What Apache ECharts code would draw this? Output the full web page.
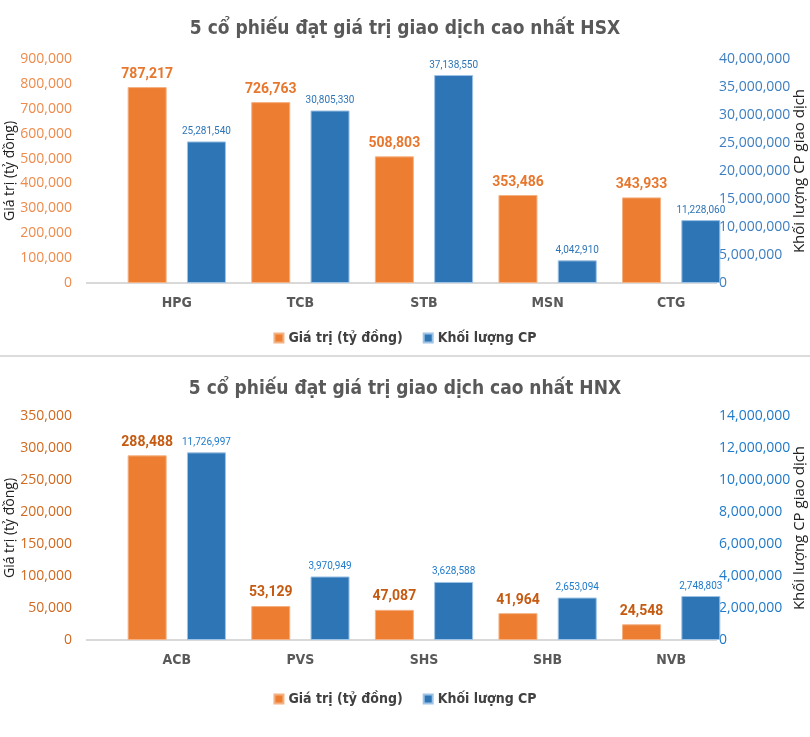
<!DOCTYPE html>
<html>
<head>
<meta charset="utf-8">
<script src="https://cdn.jsdelivr.net/npm/echarts@6/dist/echarts.min.js"></script>
<style>
html,body{margin:0;padding:0;background:#fff;}
#c1{position:absolute;left:0;top:0;width:810px;height:355px;}
#sep{position:absolute;left:0;top:355px;width:810px;height:2px;background:#dcdcdc;}
#c2{position:absolute;left:0;top:357px;width:810px;height:380px;}
</style>
</head>
<body>
<div id="c1"></div><div id="sep"></div><div id="c2"></div>
<script>
// ---- Data: HSX ----
const hsxTitle = '5 cổ phiếu đạt giá trị giao dịch cao nhất HSX';
const hsxCategories = ['HPG', 'TCB', 'STB', 'MSN', 'CTG'];
const hsxValue = [787217, 726763, 508803, 353486, 343933];
const hsxVolume = [25281540, 30805330, 37138550, 4042910, 11228060];
// ---- Data: HNX ----
const hnxTitle = '5 cổ phiếu đạt giá trị giao dịch cao nhất HNX';
const hnxCategories = ['ACB', 'PVS', 'SHS', 'SHB', 'NVB'];
const hnxValue = [288488, 53129, 47087, 41964, 24548];
const hnxVolume = [11726997, 3970949, 3628588, 2653094, 2748803];

const seriesNames = ['Giá trị (tỷ đồng)', 'Khối lượng CP'];
const leftAxisName = 'Giá trị (tỷ đồng)';
const rightAxisName = 'Khối lượng CP giao dịch';

const COND = "'DejaVu Sans Condensed','Roboto',sans-serif";
const ROB = "'Roboto','Liberation Sans',sans-serif";
const REG = "'Open Sans','Noto Sans',sans-serif";
const fmt = v => Number(v).toLocaleString('en-US');

function build(o) {
  const gridTop = 59, gridH = 224;
  return {
    animation: false,
    backgroundColor: '#fff',
    title: {
      text: o.title, left: 'center', top: o.titleTop,
      textStyle: {fontFamily: COND, fontWeight: 'bold', fontSize: 19, color: '#595959'}
    },
    legend: {
      data: seriesNames, top: o.legendTop, left: 'center', icon: 'rect',
      itemWidth: 9, itemHeight: 9, itemGap: 20,
      textStyle: {fontFamily: COND, fontWeight: 'bold', fontSize: 14, color: '#404040'}
    },
    grid: {left: 115, right: 77, top: gridTop, height: gridH, containLabel: false, outerBoundsMode: 'none'},
    xAxis: {
      type: 'category', data: o.categories,
      axisLine: {show: false}, axisTick: {show: false},
      axisLabel: {margin: 13, fontFamily: COND, fontWeight: 'bold', fontSize: 14, color: '#595959'}
    },
    yAxis: [{
      type: 'value', min: 0, max: o.lmax, interval: o.linterval, offset: 29,
      name: leftAxisName, nameLocation: 'middle', nameRotate: 90, nameGap: 69, nameMoveOverlap: false,
      nameTextStyle: {fontFamily: REG, fontSize: 14, color: '#222'},
      axisLine: {show: false}, axisTick: {show: false}, splitLine: {show: false},
      axisLabel: {margin: 14, fontFamily: REG, fontSize: 14, color: o.lcolor, formatter: fmt}
    }, {
      type: 'value', min: 0, max: o.rmax, interval: o.rinterval, offset: -15, position: 'right',
      name: rightAxisName, nameLocation: 'middle', nameRotate: 90, nameGap: 74, nameMoveOverlap: false,
      nameTextStyle: {fontFamily: REG, fontSize: 15, color: '#222'},
      axisLine: {show: false}, axisTick: {show: false}, splitLine: {show: false},
      axisLabel: {margin: 1, fontFamily: REG, fontSize: 14, color: o.rcolor, formatter: fmt}
    }],
    graphic: [{
      type: 'line', z: 0,
      shape: {x1: 86, y1: gridTop + gridH, x2: 717, y2: gridTop + gridH},
      style: {stroke: '#d9d9d9', lineWidth: 2}
    }],
    series: [{
      name: seriesNames[0], type: 'bar', yAxisIndex: 0, data: o.value,
      barWidth: 39, barGap: '52%',
      itemStyle: {color: '#ED7D31', borderColor: '#F4B183', borderWidth: 1},
      label: {show: true, position: 'top', distance: 6, formatter: p => fmt(p.value),
        fontFamily: ROB, fontWeight: 'bold', fontSize: 14, color: o.vlabel}
    }, {
      name: seriesNames[1], type: 'bar', yAxisIndex: 1, data: o.volume,
      barWidth: 39, barGap: '52%',
      itemStyle: {color: '#2E75B6', borderColor: '#9DC3E6', borderWidth: 1},
      label: {show: true, position: 'top', distance: 5, formatter: p => fmt(p.value),
        fontFamily: ROB, fontSize: 10, color: o.klabel}
    }]
  };
}

const c1 = echarts.init(document.getElementById('c1'));
c1.setOption(build({
  title: hsxTitle, titleTop: 15, legendTop: 326, categories: hsxCategories, value: hsxValue, volume: hsxVolume,
  lmax: 900000, linterval: 100000, rmax: 40000000, rinterval: 5000000,
  lcolor: '#F08A4B', rcolor: '#3D7EC0', vlabel: '#E8772E', klabel: '#2E75B6'
}));
const c2 = echarts.init(document.getElementById('c2'));
c2.setOption(build({
  title: hnxTitle, titleTop: 18, legendTop: 330, categories: hnxCategories, value: hnxValue, volume: hnxVolume,
  lmax: 350000, linterval: 50000, rmax: 14000000, rinterval: 2000000,
  lcolor: '#D2691E', rcolor: '#1F7AC9', vlabel: '#C55A11', klabel: '#1F7AC9'
}));
</script>
</body>
</html>
